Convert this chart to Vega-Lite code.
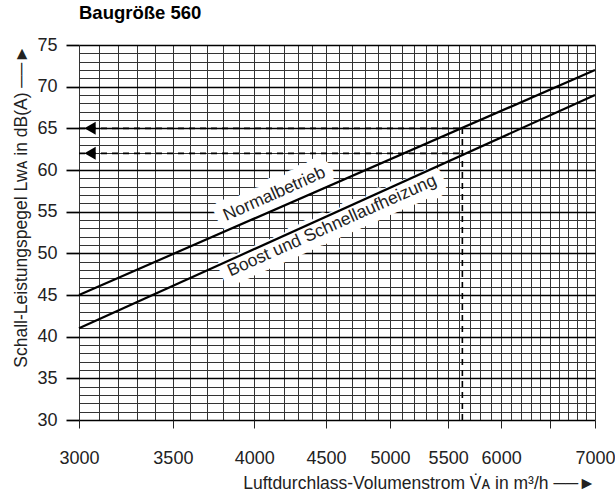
{
  "$schema": "https://vega.github.io/schema/vega-lite/v6.json",
  "width": 516,
  "height": 375,
  "autosize": {"type": "none"},
  "padding": {"left": 79, "top": 45, "right": 20, "bottom": 73},
  "background": "white",
  "config": {
    "font": "Liberation Sans",
    "view": {"stroke": null}
  },
  "title": {
    "text": "Baugröße 560",
    "anchor": "start",
    "frame": "group",
    "fontSize": 18.5,
    "fontWeight": "bold",
    "font": "Liberation Sans",
    "color": "#000",
    "offset": 14
  },
  "datasets": {
    "curves": [
      {"series": "Normalbetrieb", "flow": 3000, "level": 45},
      {"series": "Normalbetrieb", "flow": 7000, "level": 72},
      {"series": "Boost und Schnellaufheizung", "flow": 3000, "level": 41},
      {"series": "Boost und Schnellaufheizung", "flow": 7000, "level": 69}
    ],
    "hguides": [
      {"flow": 3000, "flow2": 5630, "level": 65},
      {"flow": 3000, "flow2": 5630, "level": 62}
    ],
    "vguides": [
      {"flow": 5630, "level": 30, "level2": 65}
    ],
    "arrows": [
      {"flow": 3055, "level": 65},
      {"flow": 3055, "level": 62}
    ],
    "labels": [
      {"label": "Normalbetrieb", "flow": 4135, "level": 57.1},
      {"label": "Boost und Schnellaufheizung", "flow": 4545, "level": 53.3}
    ]
  },
  "encoding": {
    "x": {
      "field": "flow",
      "type": "quantitative",
      "scale": {"type": "log", "domain": [3000, 7000], "nice": false},
      "axis": {
        "values": [3000,3100,3200,3300,3400,3500,3600,3700,3800,3900,4000,4100,4200,4300,4400,4500,4600,4700,4800,4900,5000,5100,5200,5300,5400,5500,5600,5700,5800,5900,6000,6100,6200,6300,6400,6500,6600,6700,6800,6900,7000],
        "format": "d",
        "labelExpr": "datum.value % 500 === 0 && datum.value !== 6500 ? datum.label : ''",
        "labelOverlap": false,
        "labelFontSize": 18,
        "labelColor": "#222",
        "labelPadding": 30,
        "labelBaseline": "middle",
        "labelFlush": false,
        "domain": false,
        "grid": true,
        "gridColor": "#333",
        "gridWidth": 1,
        "gridOpacity": 1,
        "ticks": true,
        "tickSize": 8,
        "tickColor": "#222",
        "tickWidth": 1,
        "tickOpacity": {"condition": {"test": "datum.value % 500 === 0", "value": 1}, "value": 0},
        "title": "Luftdurchlass-Volumenstrom V̇ᴀ in m³/h ──►",
        "titleFontSize": 17.5,
        "titleFontWeight": "normal",
        "titleColor": "#222",
        "titleAnchor": "end",
        "titleBaseline": "middle",
        "titleY": 63
      }
    },
    "y": {
      "field": "level",
      "type": "quantitative",
      "scale": {"domain": [30, 75], "nice": false, "zero": false},
      "axis": {
        "values": [30,31,32,33,34,35,36,37,38,39,40,41,42,43,44,45,46,47,48,49,50,51,52,53,54,55,56,57,58,59,60,61,62,63,64,65,66,67,68,69,70,71,72,73,74,75],
        "labelExpr": "datum.value % 5 === 0 ? datum.label : ''",
        "labelOverlap": false,
        "labelFontSize": 18,
        "labelColor": "#222",
        "labelPadding": 9,
        "domain": false,
        "grid": true,
        "gridColor": {"condition": {"test": "datum.value % 5 === 0", "value": "#000"}, "value": "#333"},
        "gridWidth": {"condition": {"test": "datum.value % 5 === 0", "value": 1.7}, "value": 1},
        "gridOpacity": 1,
        "ticks": true,
        "tickSize": 13,
        "tickColor": "#000",
        "tickWidth": 1.7,
        "tickOpacity": {"condition": {"test": "datum.value % 5 === 0", "value": 1}, "value": 0},
        "title": "Schall-Leistungspegel Lᴡᴀ in dB(A) ──►",
        "titleFontSize": 17.5,
        "titleFontWeight": "normal",
        "titleColor": "#222",
        "titleAnchor": "end",
        "titlePadding": 6
      }
    }
  },
  "layer": [
    {
      "data": {"name": "labels"},
      "mark": {"type": "text", "angle": 336, "fontSize": 17.5, "stroke": "white", "strokeOpacity": 1, "strokeWidth": 18, "strokeJoin": "round", "fill": "white", "align": "center", "baseline": "middle"},
      "encoding": {
        "text": {"field": "label"}
      }
    },
    {
      "data": {"name": "curves"},
      "mark": {"type": "line", "color": "black", "strokeWidth": 2.2},
      "encoding": {
        "detail": {"field": "series", "type": "nominal"}
      }
    },
    {
      "data": {"name": "hguides"},
      "mark": {"type": "rule", "color": "black", "strokeWidth": 1.6, "strokeDash": [6, 5]},
      "encoding": {
        "x2": {"field": "flow2"}
      }
    },
    {
      "data": {"name": "vguides"},
      "mark": {"type": "rule", "color": "black", "strokeWidth": 1.6, "strokeDash": [6, 5]},
      "encoding": {
        "y2": {"field": "level2"}
      }
    },
    {
      "data": {"name": "arrows"},
      "mark": {"type": "point", "shape": "triangle-left", "filled": true, "color": "black", "opacity": 1, "size": 170},
      "encoding": {}
    },
    {
      "data": {"name": "labels"},
      "mark": {"type": "text", "angle": 336, "fontSize": 17.5, "color": "#222", "align": "center", "baseline": "middle"},
      "encoding": {
        "text": {"field": "label"}
      }
    }
  ]
}
